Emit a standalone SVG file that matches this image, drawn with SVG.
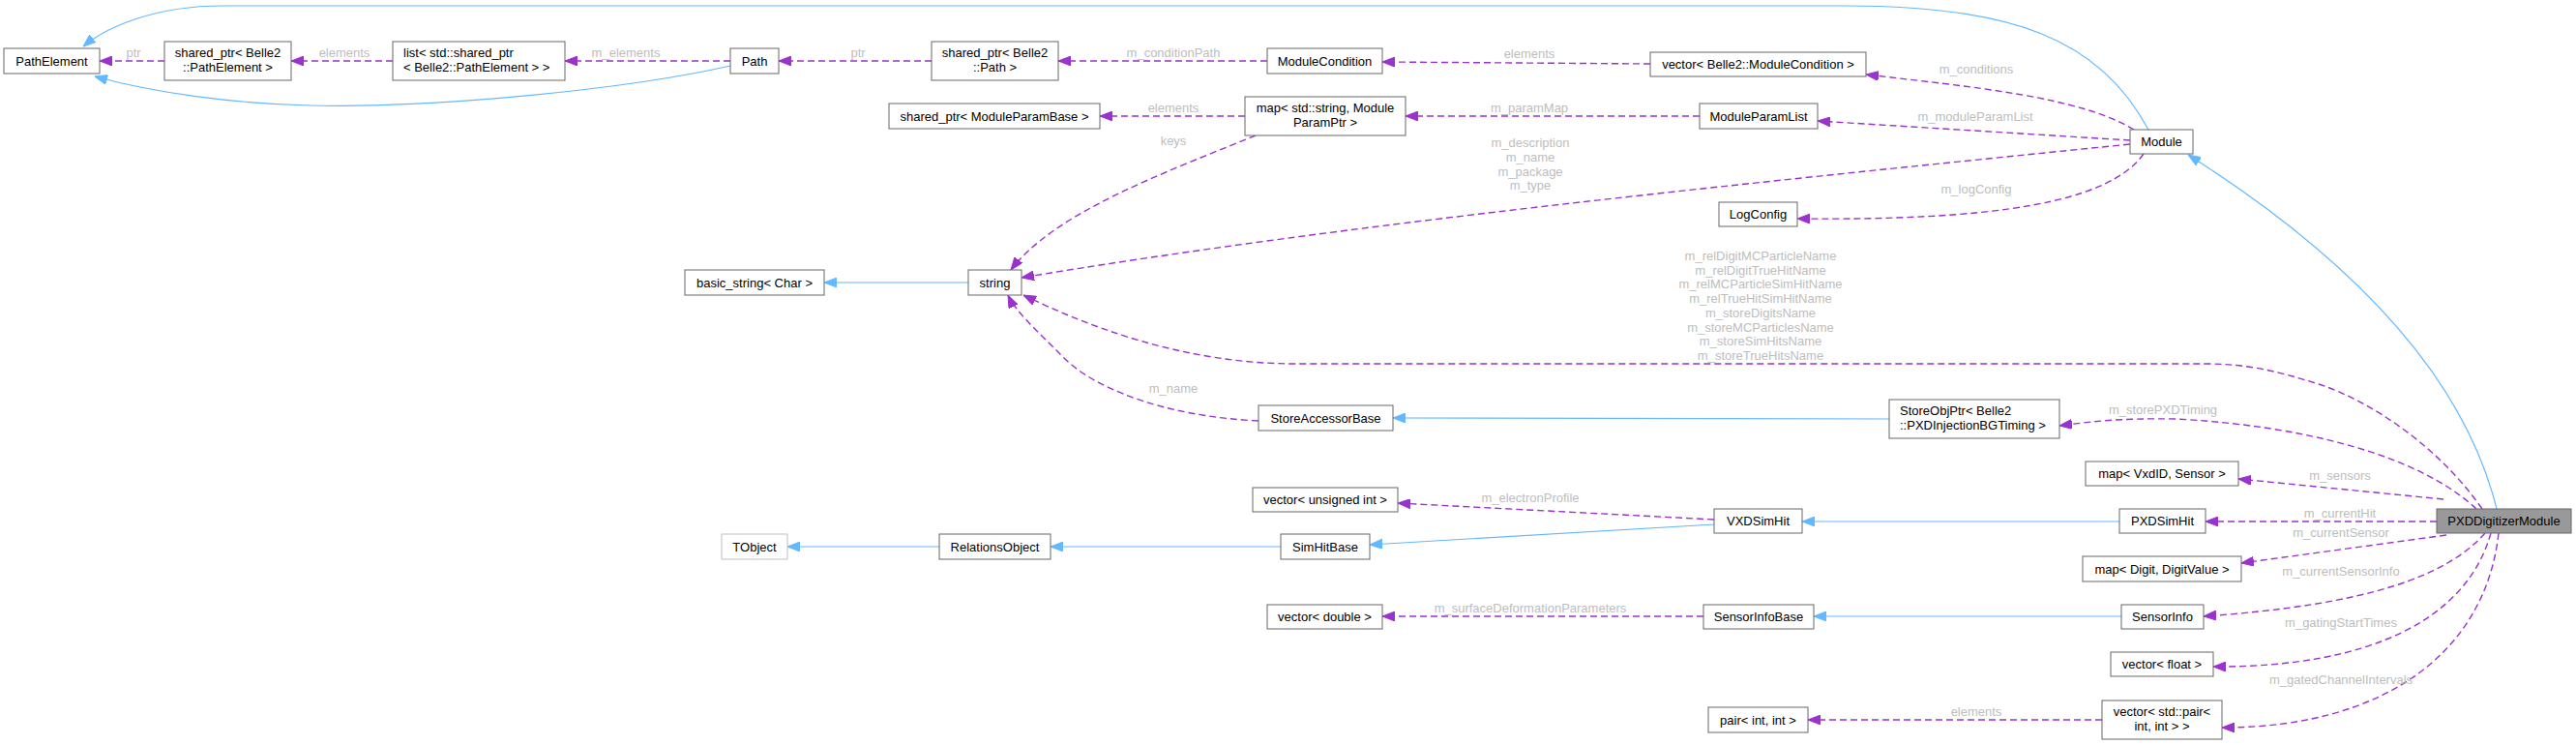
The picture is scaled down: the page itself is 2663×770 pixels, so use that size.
<svg xmlns="http://www.w3.org/2000/svg" width="2663" height="770" viewBox="0 0 2663 770">
<style>
.n rect{fill:#fff;stroke:#666;stroke-width:1}
.n text{font-family:"Liberation Sans",Arial,sans-serif;font-size:13px;fill:#000;text-anchor:middle}
.n text.l{text-anchor:start}
.inh{fill:none;stroke:#63b8ff;stroke-width:1.2;marker-end:url(#ab)}
.use{fill:none;stroke:#9a32cd;stroke-width:1.4;stroke-dasharray:7,4;marker-end:url(#ap)}
.lbl{font-family:"Liberation Sans",Arial,sans-serif;font-size:13px;fill:#bdbdbd;text-anchor:middle}
</style>
<defs>
<marker id="ab" viewBox="0 0 13 10" refX="13" refY="5" markerWidth="13" markerHeight="10" markerUnits="userSpaceOnUse" orient="auto"><path d="M0,0 L13,5 L0,10 z" fill="#63b8ff" stroke="#63b8ff" stroke-width="1"/></marker>
<marker id="ap" viewBox="0 0 13 10" refX="13" refY="5" markerWidth="13" markerHeight="10" markerUnits="userSpaceOnUse" orient="auto"><path d="M0,0 L13,5 L0,10 z" fill="#9a32cd" stroke="#9a32cd" stroke-width="1"/></marker>
</defs>
<rect width="2663" height="770" fill="#fff"/>
<g id="edges">
<path class="inh" d="M2221,134 C2170,40 2080,6 1909,6 L230,6 C160,6 110,28 86,48"/>
<path class="inh" d="M755,68 C650,92 450,112 321,109 C240,107 160,96 98,79"/>
<path class="use" d="M170,63 L103,63"/>
<path class="use" d="M406,63 L301,63"/>
<path class="use" d="M755,63 L584,63"/>
<path class="use" d="M963,63 L805,63"/>
<path class="use" d="M1310,63 L1094,63"/>
<path class="use" d="M1706,66 L1429,64"/>
<path class="use" d="M2206,134 C2150,100 2040,90 1929,77"/>
<path class="use" d="M1287,120 L1137,120"/>
<path class="use" d="M1757,120 L1453,120"/>
<path class="use" d="M2202,145 L1879,125"/>
<path class="use" d="M2202,149 C1800,190 1400,230 1056,287"/>
<path class="use" d="M2216,159 C2180,210 2060,228 1858,226"/>
<path class="use" d="M1298,140 C1200,180 1090,220 1045,279"/>
<path class="inh" d="M1001,292 L852,292"/>
<path class="use" d="M2566,526 C2520,460 2450,415 2400,398 C2350,382 2320,376 2280,376 L1340,376 C1220,376 1120,335 1058,305"/>
<path class="use" d="M1301,435 C1200,430 1130,400 1100,370 C1070,340 1050,322 1042,305"/>
<path class="inh" d="M1953,433 L1440,432"/>
<path class="use" d="M2560,526 C2500,470 2380,440 2250,433 C2190,432 2160,436 2129,440"/>
<path class="inh" d="M2581,526 C2545,380 2420,260 2262,160"/>
<path class="use" d="M2526,516 L2314,495"/>
<path class="use" d="M2519,539 L2280,539"/>
<path class="inh" d="M2191,539 L1863,539"/>
<path class="use" d="M1772,537 L1445,520"/>
<path class="inh" d="M1772,542 L1416,563"/>
<path class="inh" d="M1324,565 L1086,565"/>
<path class="inh" d="M971,565 L814,565"/>
<path class="use" d="M2529,553 L2317,582"/>
<path class="use" d="M2569,551 C2530,595 2450,625 2278,637"/>
<path class="inh" d="M2193,637 L1875,637"/>
<path class="use" d="M1761,637 L1429,637"/>
<path class="use" d="M2575,551 C2550,640 2450,690 2288,689"/>
<path class="use" d="M2583,551 C2570,670 2470,752 2297,752"/>
<path class="use" d="M2173,744 L1869,744"/>
<text class="lbl" x="138" y="59">ptr</text>
<text class="lbl" x="356" y="59">elements</text>
<text class="lbl" x="647" y="59">m_elements</text>
<text class="lbl" x="887" y="59">ptr</text>
<text class="lbl" x="1213" y="59">m_conditionPath</text>
<text class="lbl" x="1581" y="60">elements</text>
<text class="lbl" x="1213" y="116">elements</text>
<text class="lbl" x="1581" y="116">m_paramMap</text>
<text class="lbl" x="1213" y="150">keys</text>
<text class="lbl" x="1582" y="152">m_description</text>
<text class="lbl" x="1582" y="167">m_name</text>
<text class="lbl" x="1582" y="182">m_package</text>
<text class="lbl" x="1582" y="196">m_type</text>
<text class="lbl" x="2043" y="76">m_conditions</text>
<text class="lbl" x="2042" y="125">m_moduleParamList</text>
<text class="lbl" x="2043" y="200">m_logConfig</text>
<text class="lbl" x="1820" y="269">m_relDigitMCParticleName</text>
<text class="lbl" x="1820" y="284">m_relDigitTrueHitName</text>
<text class="lbl" x="1820" y="298">m_relMCParticleSimHitName</text>
<text class="lbl" x="1820" y="313">m_relTrueHitSimHitName</text>
<text class="lbl" x="1820" y="328">m_storeDigitsName</text>
<text class="lbl" x="1820" y="343">m_storeMCParticlesName</text>
<text class="lbl" x="1820" y="357">m_storeSimHitsName</text>
<text class="lbl" x="1820" y="372">m_storeTrueHitsName</text>
<text class="lbl" x="1213" y="406">m_name</text>
<text class="lbl" x="2236" y="428">m_storePXDTiming</text>
<text class="lbl" x="2419" y="496">m_sensors</text>
<text class="lbl" x="2419" y="535">m_currentHit</text>
<text class="lbl" x="2420" y="555">m_currentSensor</text>
<text class="lbl" x="1582" y="519">m_electronProfile</text>
<text class="lbl" x="2420" y="595">m_currentSensorInfo</text>
<text class="lbl" x="1582" y="633">m_surfaceDeformationParameters</text>
<text class="lbl" x="2420" y="648">m_gatingStartTimes</text>
<text class="lbl" x="2420" y="707">m_gatedChannelIntervals</text>
<text class="lbl" x="2043" y="740">elements</text>
</g>
<g id="PathElement" class="n"><rect x="4" y="50" width="99" height="26"/><text x="53.5" y="67.5">PathElement</text></g>
<g id="SharedPtrPathElement" class="n"><rect x="170" y="43" width="131" height="40"/><text x="235.5" y="58.5">shared_ptr&lt; Belle2</text><text x="235.5" y="73.5">::PathElement &gt;</text></g>
<g id="ListSharedPtr" class="n"><rect x="406" y="43" width="178" height="40"/><text class="l" x="417" y="58.5">list&lt; std::shared_ptr</text><text class="l" x="417" y="73.5">&lt; Belle2::PathElement &gt; &gt;</text></g>
<g id="Path" class="n"><rect x="755" y="50" width="50" height="26"/><text x="780" y="67.5">Path</text></g>
<g id="SharedPtrPath" class="n"><rect x="963" y="43" width="131" height="40"/><text x="1028.5" y="58.5">shared_ptr&lt; Belle2</text><text x="1028.5" y="73.5">::Path &gt;</text></g>
<g id="ModuleCondition" class="n"><rect x="1310" y="50" width="119" height="26"/><text x="1369.5" y="67.5">ModuleCondition</text></g>
<g id="VectorModuleCondition" class="n"><rect x="1706" y="54" width="223" height="25"/><text x="1817.5" y="71">vector&lt; Belle2::ModuleCondition &gt;</text></g>
<g id="SharedPtrModuleParamBase" class="n"><rect x="919" y="107" width="218" height="26"/><text x="1028" y="124.5">shared_ptr&lt; ModuleParamBase &gt;</text></g>
<g id="MapModuleParam" class="n"><rect x="1287" y="100" width="166" height="40"/><text x="1370" y="115.5">map&lt; std::string, Module</text><text x="1370" y="130.5">ParamPtr &gt;</text></g>
<g id="ModuleParamList" class="n"><rect x="1757" y="107" width="122" height="26"/><text x="1818" y="124.5">ModuleParamList</text></g>
<g id="Module" class="n"><rect x="2202" y="134" width="65" height="25"/><text x="2234.5" y="151">Module</text></g>
<g id="LogConfig" class="n"><rect x="1777" y="209" width="81" height="25"/><text x="1817.5" y="226">LogConfig</text></g>
<g id="BasicString" class="n"><rect x="708" y="279" width="144" height="26"/><text x="780" y="296.5">basic_string&lt; Char &gt;</text></g>
<g id="String" class="n"><rect x="1001" y="279" width="55" height="26"/><text x="1028.5" y="296.5">string</text></g>
<g id="StoreAccessorBase" class="n"><rect x="1301" y="419" width="139" height="26"/><text x="1370.5" y="436.5">StoreAccessorBase</text></g>
<g id="StoreObjPtr" class="n"><rect x="1953" y="413" width="176" height="40"/><text class="l" x="1964" y="428.5">StoreObjPtr&lt; Belle2</text><text class="l" x="1964" y="443.5">::PXDInjectionBGTiming &gt;</text></g>
<g id="MapVxdIDSensor" class="n"><rect x="2156" y="477" width="158" height="25"/><text x="2235" y="494">map&lt; VxdID, Sensor &gt;</text></g>
<g id="VectorUnsignedInt" class="n"><rect x="1295" y="504" width="150" height="25"/><text x="1370" y="521">vector&lt; unsigned int &gt;</text></g>
<g id="VXDSimHit" class="n"><rect x="1772" y="526" width="91" height="25"/><text x="1817.5" y="543">VXDSimHit</text></g>
<g id="PXDSimHit" class="n"><rect x="2191" y="526" width="89" height="25"/><text x="2235.5" y="543">PXDSimHit</text></g>
<g id="PXDDigitizerModule" class="n"><rect x="2519" y="526" width="139" height="25" style="fill:#999"/><text x="2588.5" y="543">PXDDigitizerModule</text></g>
<g id="TObject" class="n"><rect x="746" y="552" width="68" height="26" style="stroke:#bfbfbf"/><text x="780" y="569.5">TObject</text></g>
<g id="RelationsObject" class="n"><rect x="971" y="552" width="115" height="26"/><text x="1028.5" y="569.5">RelationsObject</text></g>
<g id="SimHitBase" class="n"><rect x="1324" y="552" width="92" height="26"/><text x="1370" y="569.5">SimHitBase</text></g>
<g id="MapDigitDigitValue" class="n"><rect x="2153" y="575" width="164" height="26"/><text x="2235" y="592.5">map&lt; Digit, DigitValue &gt;</text></g>
<g id="VectorDouble" class="n"><rect x="1310" y="625" width="119" height="25"/><text x="1369.5" y="642">vector&lt; double &gt;</text></g>
<g id="SensorInfoBase" class="n"><rect x="1761" y="625" width="114" height="25"/><text x="1818" y="642">SensorInfoBase</text></g>
<g id="SensorInfo" class="n"><rect x="2193" y="625" width="85" height="25"/><text x="2235.5" y="642">SensorInfo</text></g>
<g id="VectorFloat" class="n"><rect x="2182" y="674" width="106" height="25"/><text x="2235" y="691">vector&lt; float &gt;</text></g>
<g id="PairIntInt" class="n"><rect x="1766" y="731" width="103" height="26"/><text x="1817.5" y="748.5">pair&lt; int, int &gt;</text></g>
<g id="VectorPairIntInt" class="n"><rect x="2173" y="724" width="124" height="40"/><text x="2235" y="739.5">vector&lt; std::pair&lt;</text><text x="2235" y="754.5">int, int &gt; &gt;</text></g>
</svg>
